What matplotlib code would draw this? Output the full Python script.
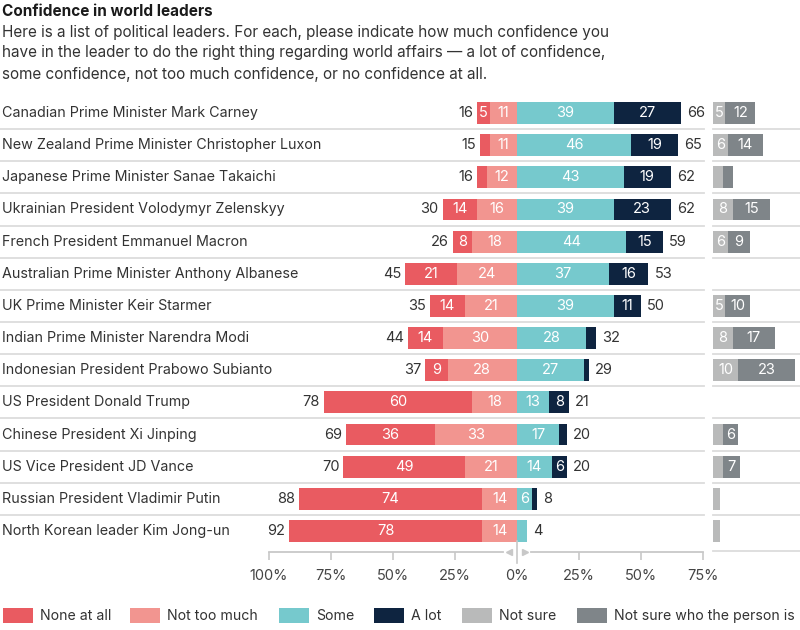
import numpy as np
import matplotlib

matplotlib.use("Agg")
import matplotlib.pyplot as plt
from matplotlib.lines import Line2D
from matplotlib.patches import Rectangle

plt.rcParams["font.family"] = ["Inter", "DejaVu Sans"]

leaders = [
    "Canadian Prime Minister Mark Carney",
    "New Zealand Prime Minister Christopher Luxon",
    "Japanese Prime Minister Sanae Takaichi",
    "Ukrainian President Volodymyr Zelenskyy",
    "French President Emmanuel Macron",
    "Australian Prime Minister Anthony Albanese",
    "UK Prime Minister Keir Starmer",
    "Indian Prime Minister Narendra Modi",
    "Indonesian President Prabowo Subianto",
    "US President Donald Trump",
    "Chinese President Xi Jinping",
    "US Vice President JD Vance",
    "Russian President Vladimir Putin",
    "North Korean leader Kim Jong-un",
]
none_at_all = [5, 4, 4, 14, 8, 21, 14, 14, 9, 60, 36, 49, 74, 78]
not_too_much = [11, 11, 12, 16, 18, 24, 21, 30, 28, 18, 33, 21, 14, 14]
some = [39, 46, 43, 39, 44, 37, 39, 28, 27, 13, 17, 14, 6, 4]
a_lot = [27, 19, 19, 23, 15, 16, 11, 4, 2, 8, 3, 6, 2, 0]
total_neg = [16, 15, 16, 30, 26, 45, 35, 44, 37, 78, 69, 70, 88, 92]
total_pos = [66, 65, 62, 62, 59, 53, 50, 32, 29, 21, 20, 20, 8, 4]
not_sure = [5, 6, 4, 8, 6, 0, 5, 8, 10, 0, 4, 4, 3, 3]
not_sure_who = [12, 14, 4, 15, 9, 0, 10, 17, 23, 0, 6, 7, 0, 0]

ticks = [-100, -75, -50, -25, 0, 25, 50, 75]
tick_labels = ["100%", "75%", "50%", "25%", "0%", "25%", "50%", "75%"]
legend_labels = ["None at all", "Not too much", "Some", "A lot", "Not sure",
                 "Not sure who the person is"]

C_NONE = "#e95b61"
C_NTM = "#f29590"
C_SOME = "#76c9cd"
C_LOT = "#0e2440"
C_NS = "#b9baba"
C_NSW = "#7f8589"
colors = [C_NONE, C_NTM, C_SOME, C_LOT, C_NS, C_NSW]
TXT = "#333333"

W, H = 800, 630
fig = plt.figure(figsize=(8, 6.3), dpi=100)


def fx(px):
    return px / W


def fy(py):
    return 1 - py / H


# px geometry
row0, step = 113, 32.15
ax_top, ax_bot = 97, 552
y_top = (ax_top - row0) / step
y_bot = (ax_bot - row0) / step

ax = fig.add_axes([fx(269), fy(ax_bot), fx(703 - 269), (ax_bot - ax_top) / H])
ax.set_xlim(-100, 75)
ax.set_ylim(y_bot, y_top)
rx = fig.add_axes([fx(713), fy(ax_bot), fx(800 - 713), (ax_bot - ax_top) / H])
rx.set_xlim(0, 87 / 434 * 175)
rx.set_ylim(y_bot, y_top)
for a in (ax, rx):
    for s in a.spines.values():
        s.set_visible(False)
    a.set_yticks([])
rx.set_xticks([])

y = np.arange(len(leaders))
bh = 0.68
none_a = np.array(none_at_all)
ntm_a = np.array(not_too_much)
some_a = np.array(some)
lot_a = np.array(a_lot)
ns_a = np.array(not_sure)
nsw_a = np.array(not_sure_who)

segs = [
    (ax, -ntm_a - none_a, none_a, C_NONE),
    (ax, -ntm_a, ntm_a, C_NTM),
    (ax, np.zeros_like(some_a), some_a, C_SOME),
    (ax, some_a, lot_a, C_LOT),
    (rx, np.zeros_like(ns_a), ns_a, C_NS),
    (rx, ns_a, nsw_a, C_NSW),
]
for a, left, width, col in segs:
    a.barh(y, width, left=left, height=bh, color=col, linewidth=0)
    for yi, l, w in zip(y, left, width):
        if w >= 5:
            a.text(l + w / 2, yi, str(w), ha="center", va="center",
                   color="white", fontsize=10.5)

for yi, n, p in zip(y, total_neg, total_pos):
    left_end = -(none_a[yi] + ntm_a[yi])
    right_end = some_a[yi] + lot_a[yi]
    ax.text(left_end - 1.6, yi, str(n), ha="right", va="center",
            color=TXT, fontsize=10.5)
    ax.text(right_end + 2.4, yi, str(p), ha="left", va="center",
            color=TXT, fontsize=10.5)
    fig.text(fx(2), fy(row0 + yi * step), leaders[yi], ha="left",
             va="center", color=TXT, fontsize=10.3)

# row separators
for i in range(len(leaders) - 1):
    py = fy(row0 + (i + 0.5) * step)
    fig.add_artist(Line2D([0, fx(704)], [py, py], color="#dcdcdc", lw=1.3))
    fig.add_artist(Line2D([fx(713), 1], [py, py], color="#dcdcdc", lw=1.3))
fig.add_artist(Line2D([fx(713), 1], [fy(551), fy(551)], color="#dcdcdc", lw=1.3))

# axis line with centre gap
ax.plot([-100, -5.5], [y_bot, y_bot], color="#c8c8c8", lw=1.3, clip_on=False)
ax.plot([5.5, 75], [y_bot, y_bot], color="#c8c8c8", lw=1.3, clip_on=False)
ax.plot([0, 0], [y_bot - 0.33, y_bot + 0.33], color="#c8c8c8", lw=1.2,
        clip_on=False)
ax.plot([-3.2], [y_bot], marker="<", color="#c8c8c8", ms=5, clip_on=False)
ax.plot([3.2], [y_bot], marker=">", color="#c8c8c8", ms=5, clip_on=False)
ax.set_xticks(ticks)
ax.set_xticklabels(tick_labels)
ax.tick_params(axis="x", direction="out", length=6, width=1.2,
               color="#c8c8c8", labelsize=10.5, labelcolor="#444444", pad=6)
ax.xaxis.get_major_ticks()[4].tick1line.set_visible(False)

# title
fig.text(fx(2), fy(11), "Confidence in world leaders", ha="left", va="center",
         fontsize=11, fontweight="bold", color="#1a1a1a")
subtitle = [
    "Here is a list of political leaders. For each, please indicate how much confidence you",
    "have in the leader to do the right thing regarding world affairs \u2014 a lot of confidence,",
    "some confidence, not too much confidence, or no confidence at all.",
]
for i, line in enumerate(subtitle):
    fig.text(fx(2), fy(32 + i * 21), line, ha="left", va="center",
             fontsize=11, color=TXT)

# legend
sw_x = [3, 130, 279, 374, 462, 577]
for x0, lab, col in zip(sw_x, legend_labels, colors):
    fig.add_artist(Rectangle((fx(x0), fy(623)), fx(30), 15 / H,
                             color=col, lw=0))
    fig.text(fx(x0 + 37), fy(616), lab, ha="left", va="center",
             fontsize=10.2, color=TXT)

fig.savefig("out.png", dpi=100)
